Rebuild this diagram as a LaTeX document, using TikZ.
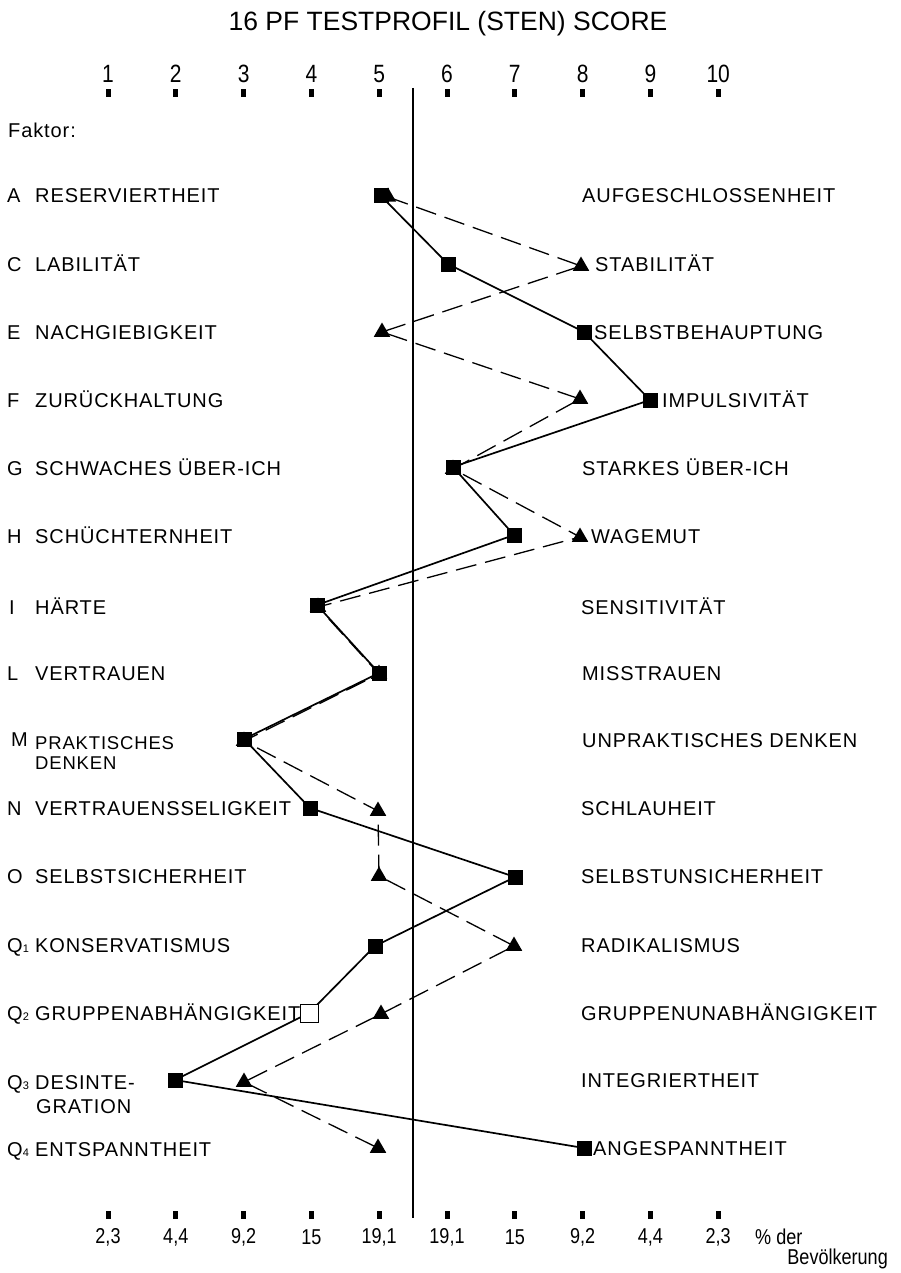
\documentclass[tikz,border=0pt]{standalone}
\usepackage{fontspec}
\setmainfont{Liberation Sans}
\newfontfamily\labfont[LetterSpace=4.5]{Liberation Sans}
\newfontfamily\narrowfont[FakeStretch=0.84]{Liberation Sans}
\usetikzlibrary{shapes.geometric}
\pgfdeclarelayer{bg}
\pgfsetlayers{bg,main}
\begin{document}
\begin{tikzpicture}[x=1pt,y=-1pt,
  sq/.style={rectangle,fill=black,minimum size=15pt,inner sep=0pt},
  osq/.style={rectangle,fill=white,draw=black,line width=0.9pt,minimum size=18pt,inner sep=0pt},
  tri/.style={regular polygon,regular polygon sides=3,fill=black,minimum size=19pt,inner sep=0pt},
  tickmark/.style={rectangle,fill=black,minimum width=5pt,minimum height=8pt,inner sep=0pt},
  lab/.style={anchor=base west,inner sep=0pt,font=\labfont\fontsize{20}{24}\selectfont},
  slab/.style={anchor=base west,inner sep=0pt,font=\labfont\fontsize{18.5}{22}\selectfont},
  num/.style={inner sep=0pt,font=\narrowfont\fontsize{25}{30}\selectfont},
  pct/.style={inner sep=0pt,font=\narrowfont\fontsize{21.5}{26}\selectfont},
  prof/.style={line width=1.7pt,line join=round},
  alt/.style={line width=1.3pt,dash pattern=on 21pt off 9pt}]
\useasboundingbox (0,0) rectangle (900,1273);
% title
\node[inner sep=0pt,font=\fontsize{26.5}{32}\selectfont] (title) at (448,24) {16 PF TESTPROFIL (STEN) SCORE};
% scale numbers and ticks
\foreach \i in {1,...,10}{
  \pgfmathsetmacro{\xx}{108+(\i-1)*67.8}
  \node[num] (n\i) at (\xx,74) {\i};
  \node[tickmark] (tt\i) at (\xx,93) {};
  \node[tickmark] (bt\i) at (\xx,1215) {};
}
% bottom percentages
\foreach \i/\p in {1/{2,3},2/{4,4},3/{9,2},4/{15},5/{19,1},6/{19,1},7/{15},8/{9,2},9/{4,4},10/{2,3}}{
  \pgfmathsetmacro{\xx}{108+(\i-1)*67.8}
  \node[pct] (p\i) at (\xx,1237) {\p};
}
\node[pct,anchor=west] (pder) at (755,1237) {\% der};
\node[pct,anchor=east] (pbev) at (888,1259) {Bevölkerung};
% middle line
\coordinate (ltop) at (413,88);
\coordinate (lbot) at (413,1218);
\draw[line width=1.3pt] (ltop) -- (lbot);
% left labels
\node[lab] (fk) at (8,138) {Faktor:};
\node[lab] (lA) at (7,203) {A};  \node[lab] (tA) at (35,203) {RESERVIERTHEIT};
\node[lab] (lC) at (7,271) {C};  \node[lab] (tC) at (35,271) {LABILITÄT};
\node[lab] (lE) at (7,339) {E};  \node[lab] (tE) at (35,339) {NACHGIEBIGKEIT};
\node[lab] (lF) at (7,407) {F};  \node[lab] (tF) at (35,407) {ZURÜCKHALTUNG};
\node[lab] (lG) at (7,475) {G};  \node[lab] (tG) at (35,475) {SCHWACHES ÜBER-ICH};
\node[lab] (lH) at (7,543) {H};  \node[lab] (tH) at (35,543) {SCHÜCHTERNHEIT};
\node[lab] (lI) at (9,614) {I};  \node[lab] (tI) at (35,614) {HÄRTE};
\node[lab] (lL) at (7,680) {L};  \node[lab] (tL) at (35,680) {VERTRAUEN};
\node[lab] (lM) at (11,746) {M};
\node[slab] (tM1) at (35,749) {PRAKTISCHES};
\node[slab] (tM2) at (35,769) {DENKEN};
\node[lab] (lN) at (7,815) {N};  \node[lab] (tN) at (35,815) {VERTRAUENSSELIGKEIT};
\node[lab] (lO) at (7,883) {O};  \node[lab] (tO) at (35,883) {SELBSTSICHERHEIT};
\node[lab] (lQ1) at (7,952) {Q{\fontsize{11}{12}\selectfont 1}}; \node[lab] (tQ1) at (35,952) {KONSERVATISMUS};
\node[lab] (lQ2) at (7,1020) {Q{\fontsize{11}{12}\selectfont 2}}; \node[lab] (tQ2) at (35,1020) {GRUPPENABHÄNGIGKEIT};
\node[lab] (lQ3) at (7,1089) {Q{\fontsize{11}{12}\selectfont 3}}; \node[lab] (tQ3a) at (35,1089) {DESINTE-};
\node[lab] (tQ3b) at (36,1113) {GRATION};
\node[lab] (lQ4) at (7,1156) {Q{\fontsize{11}{12}\selectfont 4}}; \node[lab] (tQ4) at (35,1156) {ENTSPANNTHEIT};
% right labels
\node[lab] (rA) at (582,203) {AUFGESCHLOSSENHEIT};
\node[lab] (rC) at (595,271) {STABILITÄT};
\node[lab] (rE) at (594,339) {SELBSTBEHAUPTUNG};
\node[lab] (rF) at (662,407) {IMPULSIVITÄT};
\node[lab] (rG) at (582,475) {STARKES ÜBER-ICH};
\node[lab] (rH) at (591,543) {WAGEMUT};
\node[lab] (rI) at (581,614) {SENSITIVITÄT};
\node[lab] (rL) at (582,680) {MISSTRAUEN};
\node[lab] (rM) at (582,747) {UNPRAKTISCHES DENKEN};
\node[lab] (rN) at (581,815) {SCHLAUHEIT};
\node[lab] (rO) at (581,883) {SELBSTUNSICHERHEIT};
\node[lab] (rQ1) at (581,952) {RADIKALISMUS};
\node[lab] (rQ2) at (581,1020) {GRUPPENUNABHÄNGIGKEIT};
\node[lab] (rQ3) at (581,1087) {INTEGRIERTHEIT};
\node[lab] (rQ4) at (593,1155) {ANGESPANNTHEIT};
% triangles (profile 2)
\node[tri] (bA) at (388,197) {};
\node[tri] (bC) at (581,266) {};
\node[tri] (bE) at (382,332) {};
\node[tri] (bF) at (580,399) {};
\node[tri] (bG) at (453,469) {};
\node[tri] (bH) at (580,537) {};
\node[tri] (bI) at (318,607) {};
\node[tri] (bL) at (379,674) {};
\node[tri] (bM) at (244,741) {};
\node[tri] (bN) at (378,811) {};
\node[tri] (bO) at (379,876) {};
\node[tri] (bQ1) at (514,946) {};
\node[tri] (bQ2) at (381,1014) {};
\node[tri] (bQ3) at (244,1082) {};
\node[tri] (bQ4) at (378,1148) {};
% squares (profile 1)
\node[sq] (aA) at (381,196) {};
\node[sq] (aC) at (448,264) {};
\node[sq] (aE) at (584,332) {};
\node[sq] (aF) at (650,400) {};
\node[sq] (aG) at (453,467) {};
\node[sq] (aH) at (514,535) {};
\node[sq] (aI) at (317,605) {};
\node[sq] (aL) at (379,673) {};
\node[sq] (aM) at (244,739) {};
\node[sq] (aN) at (310,808) {};
\node[sq] (aO) at (515,877) {};
\node[sq] (aQ1) at (375,946) {};
\node[osq] (aQ2) at (309,1013) {};
\node[sq] (aQ3) at (175,1080) {};
\node[sq] (aQ4) at (584,1148) {};
\begin{pgfonlayer}{bg}
\draw[prof] (aA.center) -- (aC.center) -- (aE.center) -- (aF.center) -- (aG.center) -- (aH.center) -- (aI.center) -- (aL.center) -- (aM.center) -- (aN.center) -- (aO.center) -- (aQ1.center) -- (aQ2.center) -- (aQ3.center) -- (aQ4.center);
\draw[alt] (bA.center) -- (bC.center) -- (bE.center) -- (bF.center) -- (bG.center) -- (bH.center) -- (bI.center) -- (bL.center) -- (bM.center) -- (bN.center) -- (bO.center) -- (bQ1.center) -- (bQ2.center) -- (bQ3.center) -- (bQ4.center);
\end{pgfonlayer}
\end{tikzpicture}
\end{document}
